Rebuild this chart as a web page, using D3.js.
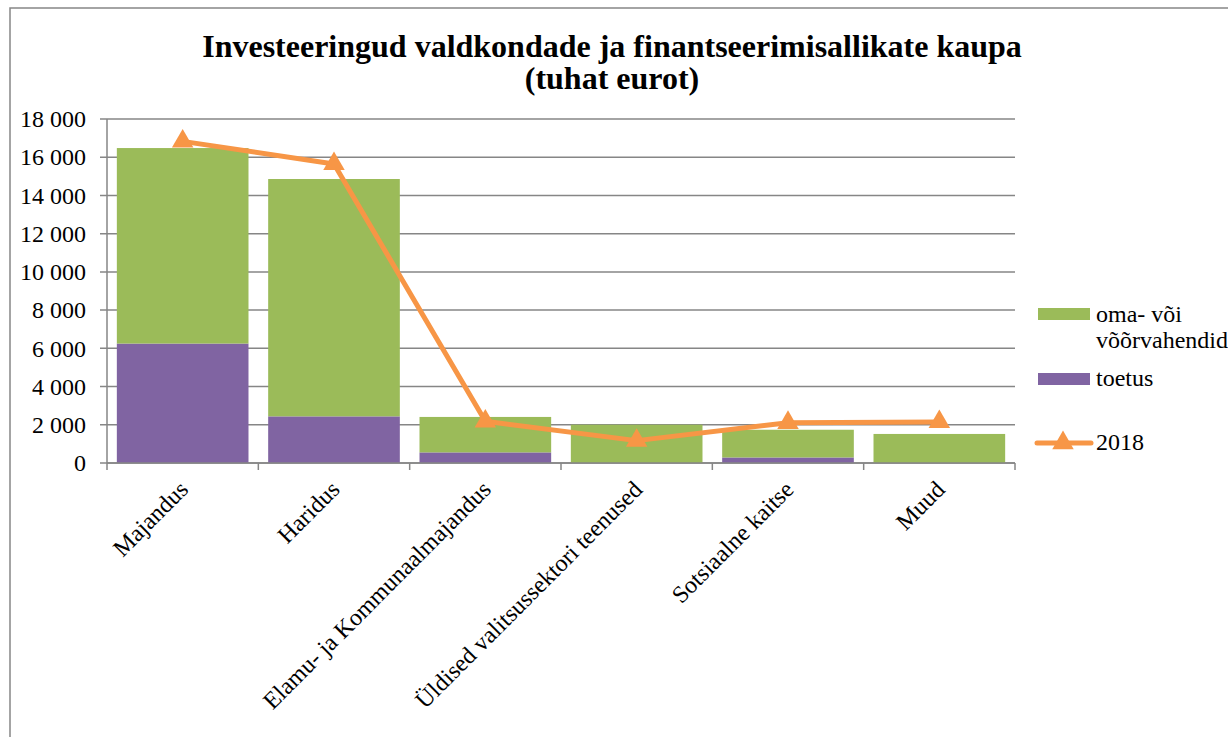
<!DOCTYPE html>
<html>
<head>
<meta charset="utf-8">
<script src="https://cdn.jsdelivr.net/npm/d3@7"></script>
<style>
  body { margin: 0; background: #fff; }
  svg text { font-family: "Liberation Serif", "Times New Roman", serif; fill: #000; }
</style>
</head>
<body>
<div id="root"></div>
<script>
'use strict';

var categories = ['Majandus', 'Haridus', 'Elamu- ja Kommunaalmajandus',
  'Üldised valitsussektori teenused', 'Sotsiaalne kaitse', 'Muud'];
var toetus = [6250, 2440, 555, 0, 290, 0];
var omaVoi = [10230, 12420, 1855, 2005, 1450, 1520];
var line2018 = [16830, 15650, 2180, 1170, 2110, 2150];
var yTicks = [0, 2000, 4000, 6000, 8000, 10000, 12000, 14000, 16000, 18000];

var width = 1228;
var height = 737;
var green = '#9bbb59';
var purple = '#8064a2';
var orange = '#f79646';
var grid = '#868686';
var fs = 24;

var svg = d3.select('#root')
  .append('svg')
  .attr('width', width)
  .attr('height', height);

// outer frame
svg.append('rect')
  .attr('x', 10).attr('y', 8)
  .attr('width', width + 20).attr('height', height + 20)
  .attr('fill', 'none')
  .attr('stroke', grid)
  .attr('stroke-width', 1.5);

var title = svg.append('text')
  .attr('text-anchor', 'middle')
  .attr('font-weight', 'bold')
  .attr('font-size', 32);
title.append('tspan').attr('x', 612).attr('y', 57)
  .text('Investeeringud valdkondade ja finantseerimisallikate kaupa');
title.append('tspan').attr('x', 612).attr('y', 89)
  .text('(tuhat eurot)');

var plotL = 107, plotR = 1015, plotT = 119, plotB = 463;

var x = d3.scaleBand()
  .domain(categories)
  .range([plotL, plotR])
  .paddingInner(0.13)
  .paddingOuter(0.065);

var y = d3.scaleLinear()
  .domain([0, 18000])
  .range([plotB, plotT]);

// grid lines
svg.append('g')
  .selectAll('line')
  .data(yTicks)
  .join('line')
  .attr('x1', plotL - 7).attr('x2', plotR)
  .attr('y1', d => y(d)).attr('y2', d => y(d))
  .attr('stroke', grid)
  .attr('stroke-width', 1.5);

// y axis
var yAxis = svg.append('g')
  .attr('transform', `translate(${plotL},0)`)
  .call(d3.axisLeft(y)
    .tickValues(yTicks)
    .tickSize(7)
    .tickFormat(d => d3.format(',')(d).replace(',', ' ')));
yAxis.select('.domain').remove();
yAxis.selectAll('.tick line').remove();
yAxis.selectAll('text')
  .attr('x', -21)
  .attr('font-size', fs);

svg.append('line')
  .attr('x1', plotL).attr('x2', plotL)
  .attr('y1', plotT).attr('y2', plotB)
  .attr('stroke', grid).attr('stroke-width', 1.5);

// stacked bars
var stack = d3.stack().keys(['toetus', 'oma'])(
  categories.map((c, i) => ({ cat: c, toetus: toetus[i], oma: omaVoi[i] })));
var colors = { toetus: purple, oma: green };

svg.append('g')
  .selectAll('g')
  .data(stack)
  .join('g')
  .attr('fill', d => colors[d.key])
  .selectAll('rect')
  .data(d => d)
  .join('rect')
  .attr('x', d => x(d.data.cat))
  .attr('y', d => y(d[1]))
  .attr('width', x.bandwidth())
  .attr('height', d => y(d[0]) - y(d[1]));

// x axis line and ticks
svg.append('line')
  .attr('x1', plotL).attr('x2', plotR)
  .attr('y1', plotB).attr('y2', plotB)
  .attr('stroke', grid).attr('stroke-width', 1.5);

var step = (plotR - plotL) / categories.length;
svg.append('g')
  .selectAll('line')
  .data(d3.range(categories.length + 1))
  .join('line')
  .attr('x1', d => plotL + d * step).attr('x2', d => plotL + d * step)
  .attr('y1', plotB).attr('y2', plotB + 7)
  .attr('stroke', grid).attr('stroke-width', 1.5);

var cx = d => x(d) + x.bandwidth() / 2;

svg.append('g')
  .selectAll('text')
  .data(categories)
  .join('text')
  .attr('text-anchor', 'end')
  .attr('font-size', fs)
  .attr('transform', d => `translate(${cx(d) + 7},${plotB + 28}) rotate(-45)`)
  .text(d => d);

// 2018 line
var pts = categories.map((c, i) => [cx(c), y(line2018[i])]);
svg.append('path')
  .attr('d', d3.line()(pts))
  .attr('fill', 'none')
  .attr('stroke', orange)
  .attr('stroke-width', 5)
  .attr('stroke-linejoin', 'round');

var tri = d3.symbol().type(d3.symbolTriangle).size(200);
svg.append('g')
  .selectAll('path')
  .data(pts)
  .join('path')
  .attr('d', tri)
  .attr('transform', d => `translate(${d[0]},${d[1]})`)
  .attr('fill', orange);

// legend
var lg = svg.append('g');
lg.append('rect').attr('x', 1038).attr('y', 308).attr('width', 52).attr('height', 12).attr('fill', green);
lg.append('text').attr('x', 1096).attr('y', 322).attr('font-size', fs).text('oma- või');
lg.append('text').attr('x', 1096).attr('y', 348).attr('font-size', fs).text('võõrvahendid');
lg.append('rect').attr('x', 1038).attr('y', 373).attr('width', 52).attr('height', 12).attr('fill', purple);
lg.append('text').attr('x', 1096).attr('y', 386).attr('font-size', fs).text('toetus');
lg.append('line').attr('x1', 1037).attr('x2', 1091).attr('y1', 443).attr('y2', 443)
  .attr('stroke', orange).attr('stroke-width', 5).attr('stroke-linecap', 'round');
lg.append('path').attr('d', tri).attr('transform', 'translate(1063,443)').attr('fill', orange);
lg.append('text').attr('x', 1096).attr('y', 450).attr('font-size', fs).text('2018');
</script>
</body>
</html>
